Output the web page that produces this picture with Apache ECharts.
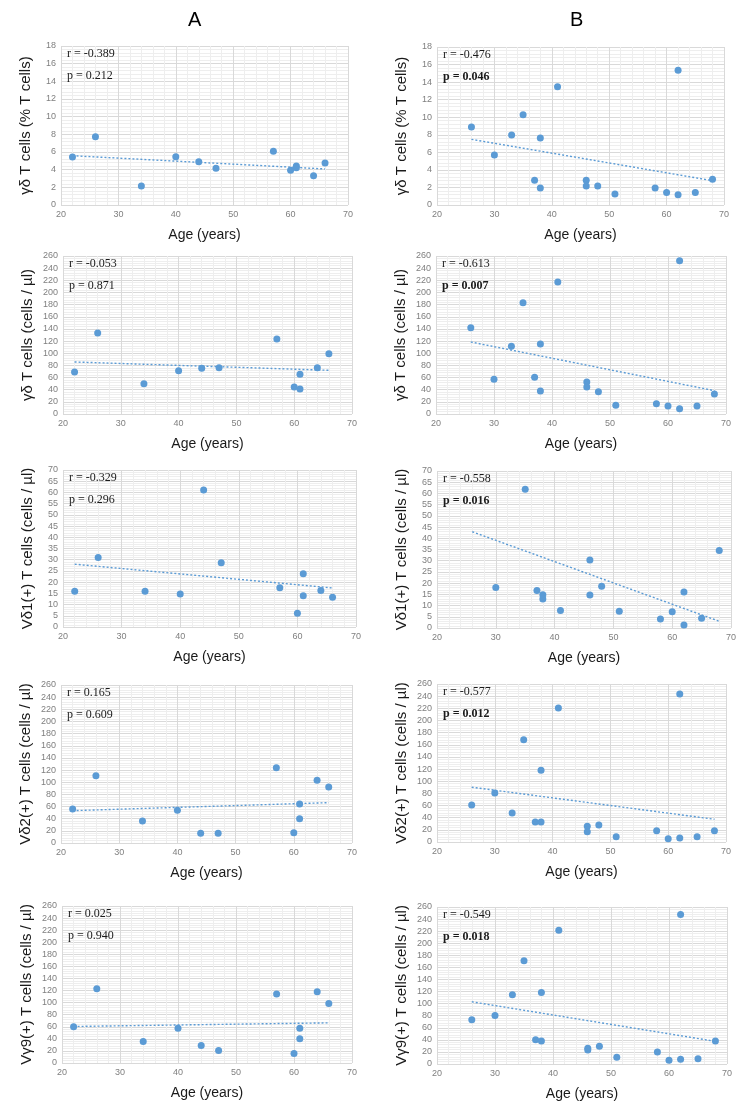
<!DOCTYPE html>
<html>
<head>
<meta charset="utf-8">
<script src="https://cdn.jsdelivr.net/npm/echarts@6/dist/echarts.min.js"></script>
<style>
html,body{margin:0;padding:0;background:#fff;}
#chart{width:753px;height:1110px;}
</style>
</head>
<body>
<div id="chart"></div>
<script>
// ---------- DATA ----------
const ageA = [22, 26, 34, 40, 44, 47, 57, 60, 61, 61, 64, 66];
const ageB = [26, 30, 33, 35, 37, 38, 38, 41, 46, 46, 48, 51, 58, 60, 62, 62, 65, 68];

const gdPctA = [5.43, 7.74, 2.15, 5.47, 4.9, 4.15, 6.08, 3.92, 4.42, 4.23, 3.32, 4.75];
const gdPctB = [8.89, 5.7, 7.98, 10.29, 2.81, 7.63, 1.94, 13.48, 2.81, 2.16, 2.16, 1.25, 1.94, 1.41, 15.34, 1.18, 1.41, 2.92];

const gdAbsA = [69.1, 133.3, 49.9, 71.3, 75.2, 76.2, 123.4, 44.4, 65.3, 41.1, 76.2, 99.3];
const gdAbsB = [142.1, 57.0, 111.4, 183.2, 60.3, 115.2, 37.9, 217.2, 52.7, 44.4, 36.8, 14.3, 17.0, 13.2, 252.3, 8.8, 13.2, 32.9];

const vd1A = [15.9, 31.0, 15.9, 14.7, 61.1, 28.6, 17.5, 6.1, 23.7, 13.9, 16.3, 13.3];
const vd1B = [null, 18.1, null, 61.9, 16.7, 14.8, 12.9, 7.8, 30.3, 14.7, 18.6, 7.5, 4.0, 7.3, 16.0, 1.3, 4.3, 34.6];

const vd2A = [55.9, 110.8, 36.2, 53.8, 15.9, 15.9, 124.0, 17.0, 64.2, 40.0, 103.1, 92.2];
const vd2B = [61.0, 80.8, 47.8, 168.2, 33.0, 118.2, 33.0, 220.4, 25.8, 17.0, 28.0, 8.8, 18.7, 5.5, 243.5, 6.6, 8.8, 18.7];

const vg9A = [59.9, 123.1, 35.7, 57.7, 29.1, 20.9, 114.3, 15.9, 57.7, 40.1, 118.2, 98.4];
const vg9B = [73.3, 80.4, 114.6, 170.8, 40.2, 118.5, 38.0, 221.5, 25.9, 23.1, 29.2, 11.0, 19.8, 6.1, 247.4, 7.7, 8.8, 38.0];

// trend lines: [x1, y1, x2, y2]
const trendA = [[22, 5.58, 66, 4.08], [22, 85.6, 66, 71.9], [22, 28.0, 66, 17.4], [22, 53.2, 66, 66.4], [22, 60.5, 66, 66.5]];
const trendB = [[26, 7.48, 68, 2.77], [26, 118.5, 68, 38.4], [26, 42.9, 68, 3.0], [26, 90.2, 68, 37.4], [26, 103.0, 68, 37.5]];

const rA = ['r = -0.389', 'r = -0.053', 'r = -0.329', 'r = 0.165', 'r = 0.025'];
const pA = ['p = 0.212', 'p = 0.871', 'p = 0.296', 'p = 0.609', 'p = 0.940'];
const rB = ['r = -0.476', 'r = -0.613', 'r = -0.558', 'r = -0.577', 'r = -0.549'];
const pB = ['p = 0.046', 'p = 0.007', 'p = 0.016', 'p = 0.012', 'p = 0.018'];

const yTitles = ['γδ T cells (% T cells)', 'γδ T cells (cells / µl)', 'Vδ1(+) T cells (cells / µl)', 'Vδ2(+) T cells (cells / µl)', 'Vγ9(+) T cells (cells / µl)'];
const yMax = [18, 260, 70, 260, 260];
const yStep = [2, 20, 5, 20, 20];
const xTitle = 'Age (years)';
const panelLetters = ['A', 'B'];

// ---------- LAYOUT ----------
const layoutA = [
  {left: 61, right: 348, top: 46, bottom: 205},
  {left: 63, right: 352, top: 256, bottom: 414},
  {left: 63, right: 356, top: 470, bottom: 627},
  {left: 61, right: 352, top: 685, bottom: 843},
  {left: 62, right: 352, top: 906, bottom: 1063}
];
const layoutB = [
  {left: 437, right: 724, top: 47, bottom: 205},
  {left: 436, right: 726, top: 256, bottom: 414},
  {left: 437, right: 731, top: 471, bottom: 628},
  {left: 437, right: 726, top: 684, bottom: 842},
  {left: 437, right: 727, top: 907, bottom: 1064}
];

const BLUE = '#5b9bd5';
const grids = [], xAxes = [], yAxes = [], series = [], graphics = [];

function addPanel(L, ages, vals, trend, rTxt, pTxt, row, boldP) {
  const gi = grids.length;
  grids.push({left: L.left, top: L.top, width: L.right - L.left, height: L.bottom - L.top, containLabel: false});
  xAxes.push({
    type: 'value', gridIndex: gi, min: 20, max: 70, interval: 10,
    axisLine: {show: false}, axisTick: {show: false},
    axisLabel: {color: '#7f7f7f', fontSize: 9, fontFamily: 'Liberation Sans, Arial', margin: 5},
    splitLine: {show: true, lineStyle: {color: '#d9d9d9', width: 1}},
    minorTick: {show: false, splitNumber: 5},
    minorSplitLine: {show: true, lineStyle: {color: '#eeeeee', width: 1}},
    name: xTitle, nameLocation: 'middle', nameGap: 23,
    nameTextStyle: {color: '#1a1a1a', fontSize: 14, fontFamily: 'Liberation Sans, Arial'}
  });
  yAxes.push({
    type: 'value', gridIndex: gi, min: 0, max: yMax[row], interval: yStep[row],
    axisLine: {show: false}, axisTick: {show: false},
    axisLabel: {color: '#7f7f7f', fontSize: 9, fontFamily: 'Liberation Sans, Arial', margin: 5},
    splitLine: {show: true, lineStyle: {color: '#d9d9d9', width: 1}},
    minorTick: {show: false, splitNumber: 5},
    minorSplitLine: {show: true, lineStyle: {color: '#eeeeee', width: 1}},
    name: yTitles[row], nameLocation: 'middle', nameGap: 28,
    nameTextStyle: {color: '#1a1a1a', fontSize: 15, fontFamily: 'Liberation Sans, Arial'}
  });
  const pts = [];
  ages.forEach((a, i) => { if (vals[i] !== null) pts.push([a, vals[i]]); });
  series.push({
    type: 'line', xAxisIndex: gi, yAxisIndex: gi, symbol: 'none', silent: true,
    data: [[trend[0], trend[1]], [trend[2], trend[3]]],
    lineStyle: {color: BLUE, width: 1.4, type: [2, 2]}, z: 2
  });
  series.push({
    type: 'scatter', xAxisIndex: gi, yAxisIndex: gi, symbol: 'circle', symbolSize: 7,
    data: pts, itemStyle: {color: BLUE, opacity: 1}, z: 3
  });
  graphics.push({type: 'text', left: L.left + 6, top: L.top + 2, z: 100, zlevel: 1,
    style: {text: rTxt, font: '12px "Liberation Serif", "Times New Roman", serif', fill: '#1a1a1a'}});
  graphics.push({type: 'text', left: L.left + 6, top: L.top + 24, z: 100, zlevel: 1,
    style: {text: pTxt, font: (boldP ? 'bold ' : '') + '12px "Liberation Serif", "Times New Roman", serif', fill: '#1a1a1a'}});
}

const valsA = [gdPctA, gdAbsA, vd1A, vd2A, vg9A];
const valsB = [gdPctB, gdAbsB, vd1B, vd2B, vg9B];
for (let r = 0; r < 5; r++) {
  addPanel(layoutA[r], ageA, valsA[r], trendA[r], rA[r], pA[r], r, false);
  addPanel(layoutB[r], ageB, valsB[r], trendB[r], rB[r], pB[r], r, true);
}

graphics.push({type: 'text', left: 188, top: 10, z: 100,
  style: {text: panelLetters[0], font: '20px "Liberation Sans", Arial', fill: '#000'}});
graphics.push({type: 'text', left: 570, top: 10, z: 100,
  style: {text: panelLetters[1], font: '20px "Liberation Sans", Arial', fill: '#000'}});

const chart = echarts.init(document.getElementById('chart'), null, {renderer: 'canvas'});
chart.setOption({
  backgroundColor: '#fff',
  animation: false,
  grid: grids, xAxis: xAxes, yAxis: yAxes, series: series, graphic: graphics
});
</script>
</body>
</html>
